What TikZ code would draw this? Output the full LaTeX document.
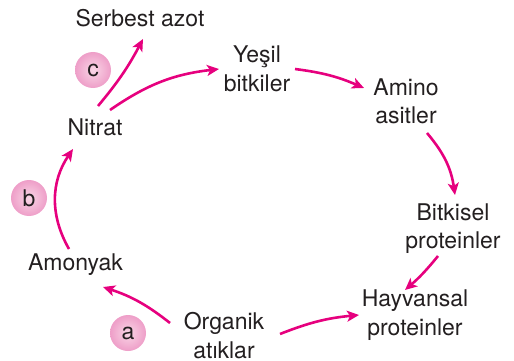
\documentclass[tikz,border=0pt]{standalone}
\usepackage{fontspec}
\setmainfont{TeX Gyre Heros}
\usetikzlibrary{arrows.meta}
\definecolor{mag}{HTML}{E6007E}
\definecolor{txt}{HTML}{231F20}
\definecolor{circin}{HTML}{F9D6E6}
\definecolor{circout}{HTML}{EE9EC8}
\begin{document}
\begin{tikzpicture}[x=1pt,y=-1pt,
  lbl/.style={font=\fontsize{23}{28.5}\selectfont, text=txt, inner sep=0pt, align=center},
  tag/.style={circle, minimum size=36pt, inner sep=0pt, inner color=circin, outer color=circout,
              font=\fontsize{23}{28}\selectfont, text=txt},
  arr/.style={draw=mag, line width=2.6pt, -{Stealth[length=12pt,width=11pt,inset=3pt]}}]
\useasboundingbox (0,0) rectangle (514,361);
% labels
\node[lbl, anchor=base] (serbest) at (140,27) {Serbest azot};
\node[lbl, anchor=base] (nitrat) at (95,135) {Nitrat};
\node[lbl, anchor=base] (amonyak) at (75.5,270) {Amonyak};
\node[lbl] (yesil) at (257,69) {Yeşil\\bitkiler};
\node[lbl] (amino) at (406,101.5) {Amino\\asitler};
\node[lbl] (bitkisel) at (453,228.5) {Bitkisel\\proteinler};
\node[lbl] (hayvansal) at (415,315) {Hayvansal\\proteinler};
\node[lbl] (organik) at (224,335.5) {Organik\\atıklar};
% tags
\node[tag] (tc) at (93,70) {c};
\node[tag] (tb) at (29,198) {b};
\node[tag] (ta) at (128,333) {a};
% connector ends
\coordinate (nS1) at (98,106);
\coordinate (nE1) at (143,39);
\coordinate (nS2) at (110,110);
\coordinate (nE2) at (219,69);
\coordinate (yS) at (295,69);
\coordinate (yE) at (364,88);
\coordinate (aS) at (427,133);
\coordinate (aE) at (455,195);
\coordinate (bS) at (438,256);
\coordinate (bE) at (405,290);
\coordinate (oS1) at (280,334);
\coordinate (oE1) at (359,315);
\coordinate (oS2) at (170,323);
\coordinate (oE2) at (103,287);
\coordinate (amS) at (69,249);
\coordinate (amE) at (73,149);
% connectors
\draw[arr] (nS1) to[bend right=6] (nE1);
\draw[arr] (nS2) to[bend left=14] (nE2);
\draw[arr] (yS) to[bend left=8] (yE);
\draw[arr] (aS) to[bend left=16] (aE);
\draw[arr] (bS) to[bend left=5] (bE);
\draw[arr] (oS1) to[bend left=8] (oE1);
\draw[arr] (oS2) to[bend right=10] (oE2);
\draw[arr] (amS) to[bend left=32] (amE);
\end{tikzpicture}
\end{document}
